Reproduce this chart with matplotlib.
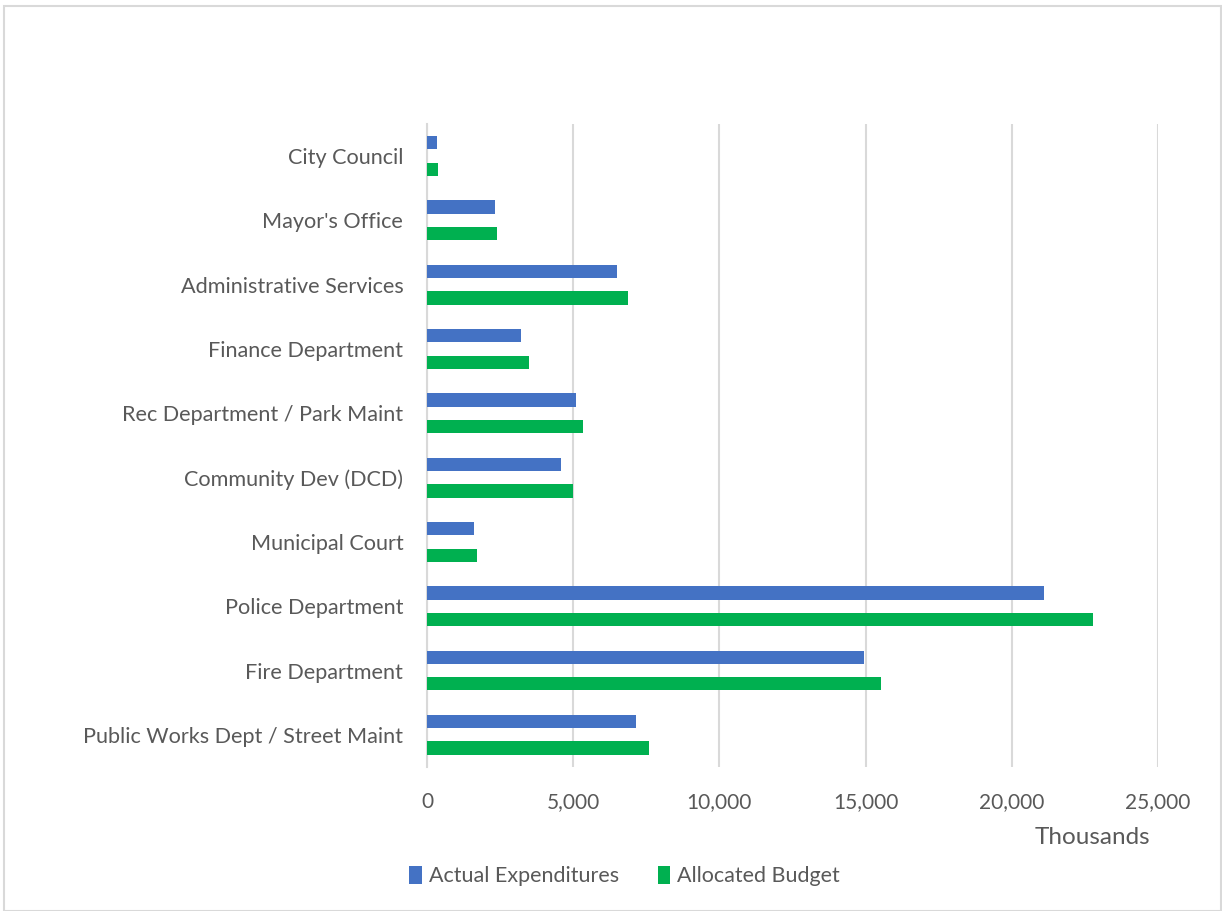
import matplotlib.pyplot as plt
import matplotlib.patches as mpatches
from matplotlib.ticker import FuncFormatter
import numpy as np

plt.rcParams['font.family'] = ['Lato', 'DejaVu Sans']

departments = ["City Council", "Mayor's Office", "Administrative Services",
               "Finance Department", "Rec Department / Park Maint",
               "Community Dev (DCD)", "Municipal Court", "Police Department",
               "Fire Department", "Public Works Dept / Street Maint"]
actual = [350, 2330, 6500, 3200, 5100, 4570, 1620, 21100, 14930, 7150]
budget = [375, 2400, 6890, 3490, 5320, 5010, 1720, 22780, 15540, 7580]

blue = '#4472C4'
green = '#00B050'
grid = '#D9D9D9'
txt = '#595959'

fig = plt.figure(figsize=(12.22, 9.11), dpi=100)
ax = fig.add_axes([0.3494, 0.1581, 0.5982, 0.7058])

y = np.arange(len(departments))
h = 0.207
ax.barh(y - h, actual, height=h, color=blue, label='Actual Expenditures', zorder=3)
ax.barh(y + h, budget, height=h, color=green, label='Allocated Budget', zorder=3)

ax.set_xlim(0, 25000)
ax.set_ylim(len(departments) - 0.5, -0.5)
ax.set_xticks(range(0, 25001, 5000))
ax.xaxis.set_major_formatter(FuncFormatter(lambda v, p: f'{int(v):,}'))
ax.set_yticks(y)
ax.set_yticklabels(departments)

ax.grid(axis='x', color=grid, linewidth=1.5, zorder=0)
for s in ['top', 'right', 'bottom']:
    ax.spines[s].set_visible(False)
ax.spines['left'].set_color(grid)
ax.spines['left'].set_linewidth(1.5)
ax.tick_params(axis='both', length=0, colors=txt)
ax.tick_params(axis='x', pad=18, labelsize=15)
ax.tick_params(axis='y', pad=17, labelsize=15.6)

fig.text(0.941, 0.081, 'Thousands', ha='right', va='center', fontsize=17.5, color=txt)

fig.legend(loc='center', bbox_to_anchor=(0.511, 0.038), ncol=2, frameon=False,
           fontsize=15.5, labelcolor=txt, handlelength=0.6, handleheight=0.85,
           handletextpad=0.3, columnspacing=1.8)

fig.patches.append(mpatches.Rectangle((0.003, 0.0), 0.996, 0.993, transform=fig.transFigure,
                                      fill=False, edgecolor='#D9D9D9', linewidth=1.5))

fig.savefig('out.png', dpi=100)
